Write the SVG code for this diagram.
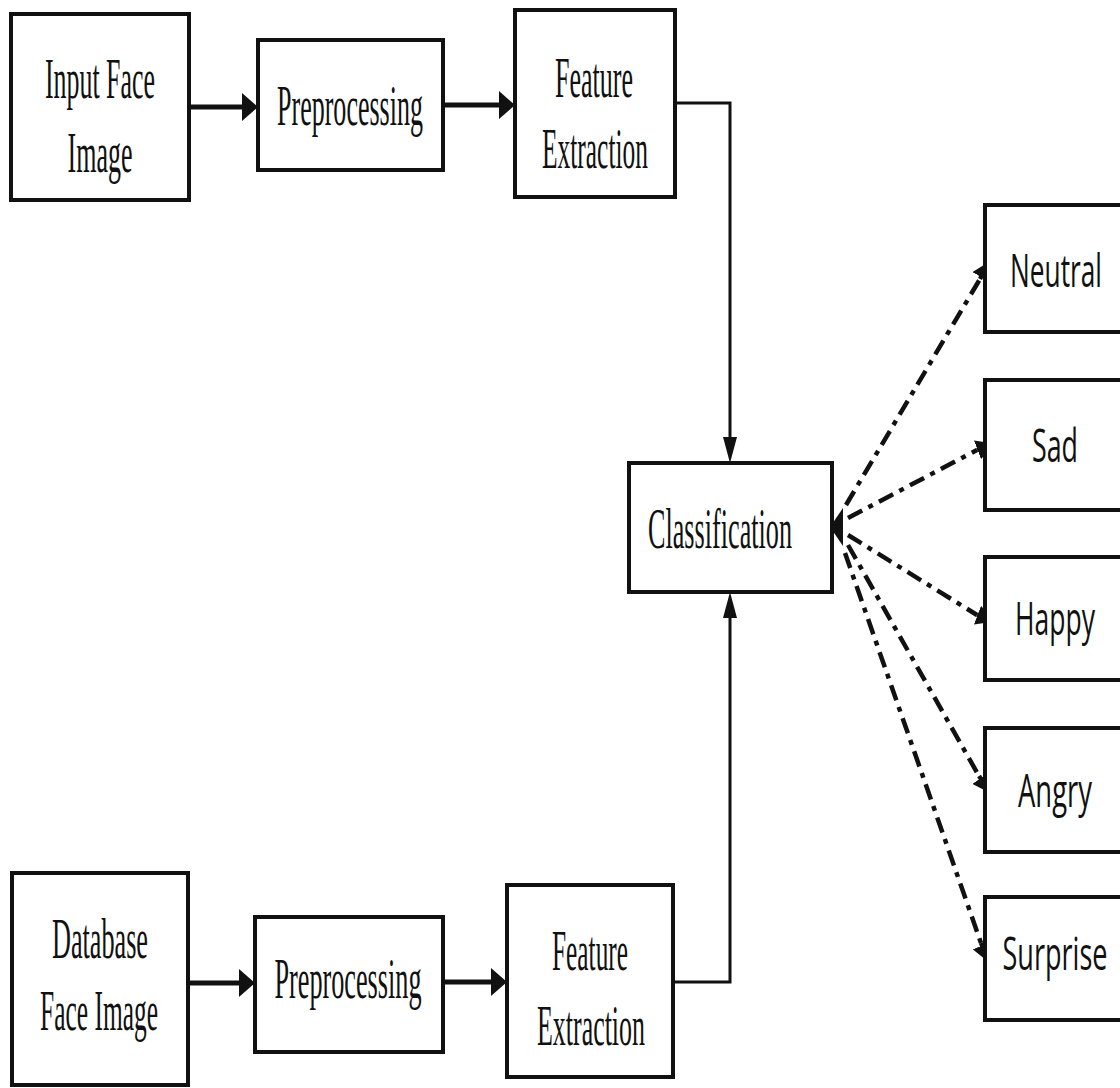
<svg xmlns="http://www.w3.org/2000/svg" width="1120" height="1088" viewBox="0 0 1120 1088">
<style>
.box{fill:#fff;stroke:#111;stroke-width:4}
.serif{font-family:"Liberation Serif","Times New Roman",serif;font-size:58px;fill:#111;text-anchor:middle}
.sans{font-family:"Open Sans","DejaVu Sans",sans-serif;font-size:46px;fill:#111;text-anchor:middle}
.solid{fill:none;stroke:#111;stroke-width:5}
.thin{fill:none;stroke:#111;stroke-width:3}
.dash{fill:none;stroke:#111;stroke-width:4.5;stroke-dasharray:16 7 5 7}
</style>
<defs>
<marker id="arrH" markerUnits="userSpaceOnUse" viewBox="0 0 16 28" refX="8" refY="14" markerWidth="16" markerHeight="28" orient="auto">
<path d="M0,0 L16,14 L0,28 z" fill="#111"/>
</marker>
<marker id="arrV" markerUnits="userSpaceOnUse" viewBox="0 0 26 14" refX="12" refY="7" markerWidth="26" markerHeight="14" orient="auto">
<path d="M0,0 L26,7 L0,14 z" fill="#111"/>
</marker>
<marker id="arrD" markerUnits="userSpaceOnUse" viewBox="0 0 18 20" refX="8" refY="10" markerWidth="18" markerHeight="20" orient="auto">
<path d="M0,0 L18,10 L0,20 z" fill="#111"/>
</marker>
</defs>
<rect width="1120" height="1088" fill="#fff"/>

<g id="connectors">
<line class="solid" x1="189" y1="107" x2="250" y2="107" marker-end="url(#arrH)"/>
<line class="solid" x1="443" y1="105" x2="507" y2="105" marker-end="url(#arrH)"/>
<path class="thin" d="M675,103 H730 V449" marker-end="url(#arrV)"/>
<line class="solid" x1="188" y1="983" x2="247" y2="983" marker-end="url(#arrH)"/>
<line class="solid" x1="443" y1="982" x2="499" y2="982" marker-end="url(#arrH)"/>
<path class="thin" d="M673,982 H730 V606" marker-end="url(#arrV)"/>
<line class="dash" x1="846" y1="505" x2="980" y2="279"/>
<line class="dash" x1="848" y1="518" x2="977" y2="450"/>
<line class="dash" x1="848" y1="535" x2="977" y2="615"/>
<line class="dash" x1="848" y1="545" x2="979" y2="776"/>
<line class="dash" x1="845" y1="553" x2="981" y2="943"/>
<path d="M980,279 L985,270" class="dash" marker-end="url(#arrD)"/>
<path d="M977,450 L985,447" class="dash" marker-end="url(#arrD)"/>
<path d="M977,615 L985,618" class="dash" marker-end="url(#arrD)"/>
<path d="M979,776 L985,785" class="dash" marker-end="url(#arrD)"/>
<path d="M981,943 L985,953" class="dash" marker-end="url(#arrD)"/>
<path d="M830,527 L843,508 L843,546 z" fill="#111"/>
</g>

<g id="input-face-image">
<rect class="box" x="11" y="14" width="178" height="186"/>
<text class="serif" x="100" y="98" textLength="110" lengthAdjust="spacingAndGlyphs">Input Face</text>
<text class="serif" x="100" y="172" textLength="65" lengthAdjust="spacingAndGlyphs">Image</text>
</g>
<g id="preprocessing-top">
<rect class="box" x="258" y="40" width="185" height="130"/>
<text class="serif" x="350" y="125" textLength="146" lengthAdjust="spacingAndGlyphs">Preprocessing</text>
</g>
<g id="feature-extraction-top">
<rect class="box" x="515" y="10" width="160" height="187"/>
<text class="serif" x="594" y="97" textLength="78" lengthAdjust="spacingAndGlyphs">Feature</text>
<text class="serif" x="595" y="168" textLength="106" lengthAdjust="spacingAndGlyphs">Extraction</text>
</g>
<g id="classification">
<rect class="box" x="629" y="463" width="203" height="129"/>
<text class="serif" x="720" y="548" textLength="144" lengthAdjust="spacingAndGlyphs">Classification</text>
</g>
<g id="database-face-image">
<rect class="box" x="12" y="873" width="176" height="212"/>
<text class="serif" x="100" y="958" textLength="96" lengthAdjust="spacingAndGlyphs">Database</text>
<text class="serif" x="99" y="1030" textLength="118" lengthAdjust="spacingAndGlyphs">Face Image</text>
</g>
<g id="preprocessing-bottom">
<rect class="box" x="255" y="917" width="188" height="135"/>
<text class="serif" x="348" y="998" textLength="147" lengthAdjust="spacingAndGlyphs">Preprocessing</text>
</g>
<g id="feature-extraction-bottom">
<rect class="box" x="507" y="885" width="166" height="192"/>
<text class="serif" x="590" y="970" textLength="76" lengthAdjust="spacingAndGlyphs">Feature</text>
<text class="serif" x="591" y="1045" textLength="108" lengthAdjust="spacingAndGlyphs">Extraction</text>
</g>
<g id="neutral">
<rect class="box" x="985" y="205" width="150" height="127"/>
<text class="sans" x="1056" y="287" textLength="92" lengthAdjust="spacingAndGlyphs">Neutral</text>
</g>
<g id="sad">
<rect class="box" x="985" y="380" width="150" height="130"/>
<text class="sans" x="1055" y="462" textLength="46" lengthAdjust="spacingAndGlyphs">Sad</text>
</g>
<g id="happy">
<rect class="box" x="985" y="557" width="150" height="123"/>
<text class="sans" x="1055" y="635" textLength="80" lengthAdjust="spacingAndGlyphs">Happy</text>
</g>
<g id="angry">
<rect class="box" x="985" y="728" width="150" height="124"/>
<text class="sans" x="1055" y="807" textLength="74" lengthAdjust="spacingAndGlyphs">Angry</text>
</g>
<g id="surprise">
<rect class="box" x="985" y="897" width="150" height="123"/>
<text class="sans" x="1055" y="970" textLength="105" lengthAdjust="spacingAndGlyphs">Surprise</text>
</g>
</svg>
